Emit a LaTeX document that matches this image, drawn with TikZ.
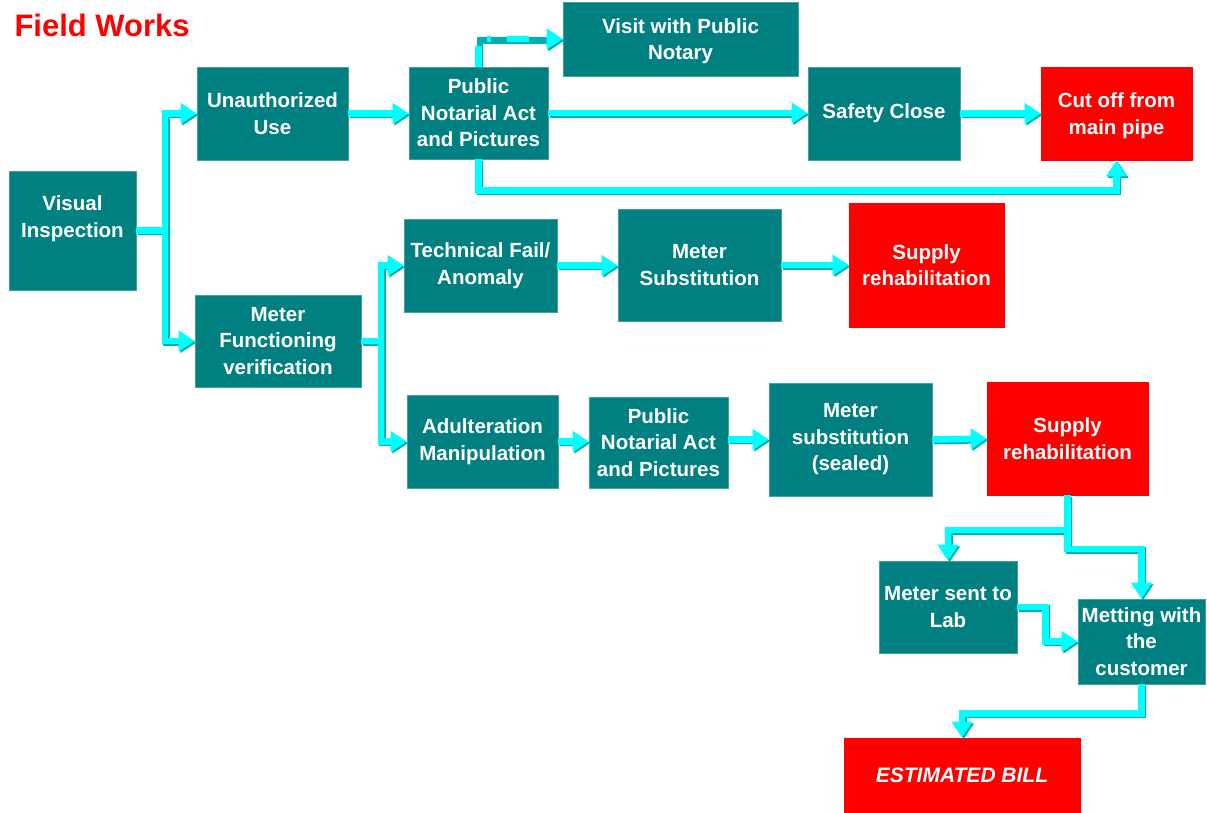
\documentclass[tikz,border=0pt]{standalone}
\usepackage{fontspec}
\setmainfont{Liberation Sans}
\usetikzlibrary{arrows.meta,calc}
\definecolor{tealbox}{HTML}{008080}
\definecolor{redbox}{HTML}{FF0000}
\definecolor{pipe}{HTML}{00FFFF}
\definecolor{pipeshade}{HTML}{00B0B0}
\begin{document}
\begin{tikzpicture}[x=1pt,y=-1pt,
  box/.style={fill=tealbox, draw=tealbox!75!white, line width=0.6pt, text=white,
    font=\fontsize{20.5}{26.5}\selectfont\bfseries, align=center, inner sep=0pt},
  boxtext/.style={text=white, font=\fontsize{20.5}{26.5}\selectfont\bfseries,
    align=center, inner sep=0pt},
  alert/.style={box, fill=redbox, draw=redbox},
  conn/.style={draw=pipe, line width=6.5pt, line cap=butt, line join=miter,
    -{Triangle[width=20pt,length=16pt]},
    preaction={draw=pipeshade, line width=6.5pt, -{Triangle[width=20pt,length=16pt]},
      transform canvas={shift={(1.6pt,-1.6pt)}}}},
  dconn/.style={conn, dash pattern=on 21pt off 15pt on 4pt off 16pt on 22pt off 40pt,
    preaction={draw=pipeshade, line width=6.5pt,
      dash pattern=on 21pt off 15pt on 4pt off 16pt on 22pt off 40pt,
      -{Triangle[width=20pt,length=16pt]}, transform canvas={shift={(1.6pt,-1.6pt)}}}}
]
\useasboundingbox (0,0) rectangle (1207,812);

\node[anchor=base west, text=redbox, font=\fontsize{31}{36}\selectfont\bfseries] (title) at (11,36) {Field Works};

% boxes
\node[box, minimum width=127pt, minimum height=119pt] (vis)  at (72.5,230.5) {};
\node[boxtext] (vist) at ($(vis.center)+(0,-12)$) {Visual\\Inspection};
\node[box, minimum width=151pt, minimum height=93pt]  (una)  at (272.5,113.5) {Unauthorized\\Use};
\node[box, minimum width=139pt, minimum height=92pt]  (pna)  at (478.5,113) {Public\\Notarial Act\\and Pictures};
\node[box, minimum width=235pt, minimum height=74pt]  (visit) at (680.5,39) {};
\node[boxtext] (visitt) at ($(visit.center)+(0,2)$) {Visit with Public\\Notary};
\node[box, minimum width=152pt, minimum height=93pt]  (saf)  at (884,113.5) {Safety Close};
\node[alert, minimum width=151pt, minimum height=93pt] (cut) at (1116.5,113.5) {};
\node[boxtext] (cutt) at ($(cut.center)+(0,2)$) {Cut off from\\main pipe};
\node[box, minimum width=166pt, minimum height=92pt]  (mfv)  at (278,341) {Meter\\Functioning\\verification};
\node[box, minimum width=153pt, minimum height=93pt]  (tfa)  at (480.5,265.5) {Technical Fail/\\Anomaly};
\node[box, minimum width=163pt, minimum height=112pt] (msub) at (699.5,265) {Meter\\Substitution};
\node[alert, minimum width=155pt, minimum height=124pt] (sra) at (926.5,265) {Supply\\rehabilitation};
\node[box, minimum width=151pt, minimum height=93pt]  (adm)  at (482.5,441.5) {Adulteration\\Manipulation};
\node[box, minimum width=139pt, minimum height=91pt]  (pnb)  at (658.5,442.5) {Public\\Notarial Act\\and Pictures};
\node[box, minimum width=163pt, minimum height=113pt] (mss)  at (850.5,439.5) {Meter\\substitution\\(sealed)};
\node[alert, minimum width=161pt, minimum height=113pt] (srb) at (1067.5,438.5) {Supply\\rehabilitation};
\node[box, minimum width=138pt, minimum height=92pt]  (lab)  at (948,607) {Meter sent to\\Lab};
\node[box, minimum width=127pt, minimum height=85pt]  (met)  at (1141.5,641.5) {Metting with\\the\\customer};
\node[alert, minimum width=236pt, minimum height=75pt,
      font=\fontsize{21}{25}\selectfont\bfseries\itshape] (est) at (962,775.5) {ESTIMATED BILL};

% junction points
\coordinate (ja) at (165,230.5);
\coordinate (jb) at (381,341);
\coordinate (jc) at (1067.5,530);
\coordinate (jd) at (1067.5,549);

% connectors
\draw[conn] (vis.east) -- (ja) |- (una.west);
\draw[conn] (ja) |- (mfv.west);
\draw[conn] (una.east) -- (una.east -| pna.west);
\draw[dconn] (pna.north) |- (visit.west);
\draw[conn] (pna.east) -- (pna.east -| saf.west);
\draw[conn] (saf.east) -- (saf.east -| cut.west);
\draw[conn] (pna.south) -- ++(0,31) -| (cut.south);
\draw[conn] (mfv.east) -- (jb) |- (tfa.west);
\draw[conn] (jb) |- (adm.west);
\draw[conn] (tfa.east) -- (tfa.east -| msub.west);
\draw[conn] (msub.east) -- (sra.west);
\draw[conn] (adm.east) -- (adm.east -| pnb.west);
\draw[conn] (pnb.east |- mss.west) -- (mss.west);
\draw[conn] (mss.east) -- (srb.west);
\draw[conn] (srb.south) -- (jc) -| (lab.north);
\draw[conn] (jc) -- (jd) -| (met.north);
\draw[conn] (lab.east) -- ++(28,0) |- (met.west);
\draw[conn] (met.south) -- ++(0,29) -| (est.north);
\end{tikzpicture}
\end{document}
